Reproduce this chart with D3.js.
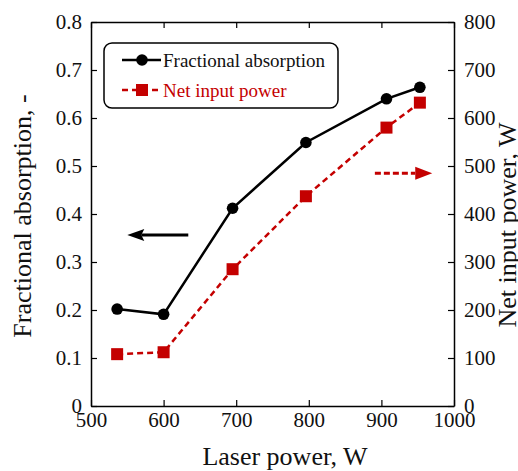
<!DOCTYPE html>
<html>
<head>
<meta charset="utf-8">
<script src="https://cdn.jsdelivr.net/npm/d3@7"></script>
<style>
  html, body { margin: 0; padding: 0; background: #fff; }
  svg { display: block; }
</style>
</head>
<body>
<svg id="chart" width="518" height="471"></svg>
<script>
// ---- data ----
const laserPower = [536, 600, 695, 796, 907, 953];
const fractionalAbsorption = [0.202, 0.191, 0.412, 0.549, 0.640, 0.664];
const netInputPower = [108, 112, 285, 437, 580, 632];
const xTicks = [500, 600, 700, 800, 900, 1000];
const leftTicks = [0, 0.1, 0.2, 0.3, 0.4, 0.5, 0.6, 0.7, 0.8];
const rightTicks = [0, 100, 200, 300, 400, 500, 600, 700, 800];
const seriesNames = ["Fractional absorption", "Net input power"];
const xTitle = "Laser power, W";
const leftTitle = "Fractional absorption, -";
const rightTitle = "Net input power, W";
// annotation arrows (data coordinates)
const leftArrow = { x1: 634, x2: 550, y: 0.356 };
const rightArrow = { x1: 891, x2: 970, y: 485 };

// ---- layout ----
const FONT = "'Liberation Serif', Tinos, 'Times New Roman', Times, 'Nimbus Roman', 'DejaVu Serif', serif";
const margin = { left: 91, top: 22, right: 64, bottom: 65 };
const W = 518, H = 471;
const w = W - margin.left - margin.right; // 363
const h = H - margin.top - margin.bottom; // 384
const red = "#c40000";

const svg = d3.select("#chart").attr("font-family", FONT);
const g = svg.append("g").attr("transform", `translate(${margin.left},${margin.top})`);

const x = d3.scaleLinear().domain([500, 1000]).range([0, w]);
const yL = d3.scaleLinear().domain([0, 0.8]).range([h, 0]);
const yR = d3.scaleLinear().domain([0, 800]).range([h, 0]);

function styleAxis(sel) {
  sel.attr("font-family", FONT).attr("font-size", 21);
  sel.select(".domain").attr("stroke", "#000").attr("stroke-width", 1.5);
  sel.selectAll(".tick line").attr("stroke", "#000").attr("stroke-width", 1.2);
  sel.selectAll("text").attr("fill", "#111");
}

g.append("g").attr("transform", `translate(0,${h})`)
  .call(d3.axisBottom(x).tickValues(xTicks).tickSize(-6).tickSizeOuter(0).tickPadding(6).tickFormat(d3.format("d")))
  .call(styleAxis);
g.append("g")
  .call(d3.axisTop(x).tickValues(xTicks).tickSize(-6).tickSizeOuter(0).tickFormat(""))
  .call(styleAxis);
g.append("g")
  .call(d3.axisLeft(yL).tickValues(leftTicks).tickSize(-6).tickSizeOuter(0).tickPadding(9)
    .tickFormat(d => d === 0 ? "0" : d.toFixed(1)))
  .call(styleAxis);
g.append("g").attr("transform", `translate(${w},0)`)
  .call(d3.axisRight(yR).tickValues(rightTicks).tickSize(-6).tickSizeOuter(0).tickPadding(10).tickFormat(d3.format("d")))
  .call(styleAxis);

// ---- series ----
const ptsA = laserPower.map((p, i) => [p, fractionalAbsorption[i]]);
const ptsB = laserPower.map((p, i) => [p, netInputPower[i]]);

g.append("path").datum(ptsA)
  .attr("fill", "none").attr("stroke", "#000").attr("stroke-width", 2.5)
  .attr("d", d3.line().x(d => x(d[0])).y(d => yL(d[1])));
g.append("path").datum(ptsB)
  .attr("fill", "none").attr("stroke", red).attr("stroke-width", 2.5)
  .attr("stroke-dasharray", "6,4")
  .attr("d", d3.line().x(d => x(d[0])).y(d => yR(d[1])));

g.selectAll("circle.a").data(ptsA).join("circle").attr("class", "a")
  .attr("cx", d => x(d[0])).attr("cy", d => yL(d[1])).attr("r", 5.8).attr("fill", "#000");
const sq = 12;
g.selectAll("rect.b").data(ptsB).join("rect").attr("class", "b")
  .attr("x", d => x(d[0]) - sq / 2).attr("y", d => yR(d[1]) - sq / 2)
  .attr("width", sq).attr("height", sq).attr("fill", red);

// ---- arrows ----
const ay = yL(leftArrow.y);
g.append("line").attr("x1", x(leftArrow.x1)).attr("x2", x(leftArrow.x2) + 14)
  .attr("y1", ay).attr("y2", ay).attr("stroke", "#000").attr("stroke-width", 3);
g.append("path").attr("fill", "#000")
  .attr("d", `M${x(leftArrow.x2)},${ay} L${x(leftArrow.x2) + 17},${ay - 6} L${x(leftArrow.x2) + 14},${ay} L${x(leftArrow.x2) + 17},${ay + 6} Z`);

const ry = yR(rightArrow.y);
g.append("line").attr("x1", x(rightArrow.x1)).attr("x2", x(rightArrow.x2) - 17)
  .attr("y1", ry).attr("y2", ry).attr("stroke", red).attr("stroke-width", 3)
  .attr("stroke-dasharray", "6,3");
g.append("path").attr("fill", red)
  .attr("d", `M${x(rightArrow.x2)},${ry} L${x(rightArrow.x2) - 17},${ry - 6.5} L${x(rightArrow.x2) - 17},${ry + 6.5} Z`);

// ---- legend ----
const lg = svg.append("g");
lg.append("rect").attr("x", 104).attr("y", 43).attr("width", 234).attr("height", 65)
  .attr("rx", 8).attr("ry", 8).attr("fill", "#fff").attr("stroke", "#000").attr("stroke-width", 1.5);
const rows = [
  { y: 60, color: "#000", dash: null, marker: "circle" },
  { y: 90, color: red, dash: "6,4", marker: "rect" }
];
rows.forEach((r, i) => {
  lg.append("line").attr("x1", 122).attr("x2", 161).attr("y1", r.y).attr("y2", r.y)
    .attr("stroke", r.color).attr("stroke-width", 2.5).attr("stroke-dasharray", r.dash);
  if (r.marker === "circle") {
    lg.append("circle").attr("cx", 142).attr("cy", r.y).attr("r", 5.8).attr("fill", r.color);
  } else {
    lg.append("rect").attr("x", 142 - sq / 2).attr("y", r.y - sq / 2).attr("width", sq).attr("height", sq).attr("fill", r.color);
  }
  lg.append("text").attr("x", 163).attr("y", r.y + 6.5).attr("font-size", 19)
    .attr("fill", r.color === "#000" ? "#111" : r.color).text(seriesNames[i]);
});

// ---- titles ----
svg.append("text").attr("x", 285).attr("y", 465).attr("text-anchor", "middle")
  .attr("font-size", 26).attr("fill", "#111").text(xTitle);
svg.append("text").attr("transform", "translate(31,216) rotate(-90)").attr("text-anchor", "middle")
  .attr("font-size", 26).attr("fill", "#111").text(leftTitle);
svg.append("text").attr("transform", "translate(516,225) rotate(-90)").attr("text-anchor", "middle")
  .attr("font-size", 26).attr("fill", "#111").text(rightTitle);
</script>
</body>
</html>
